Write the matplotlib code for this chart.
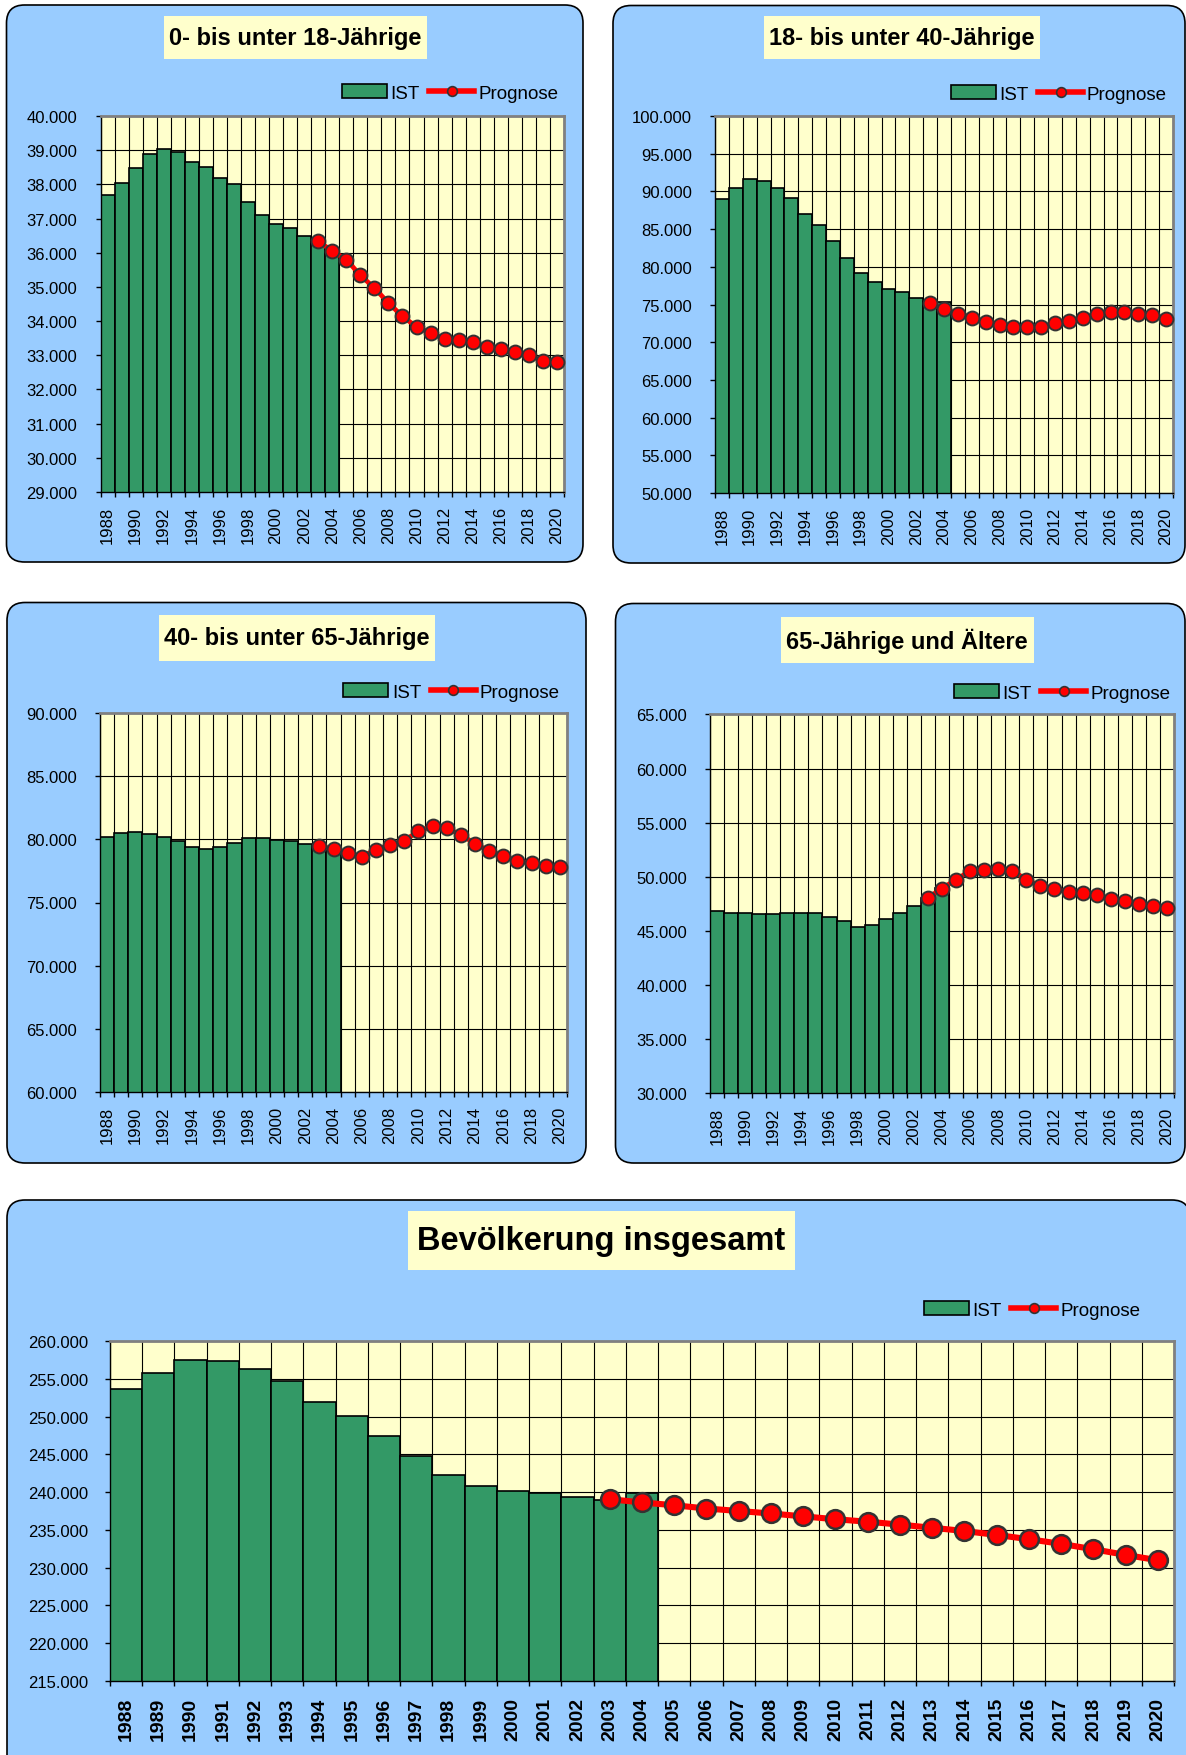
import numpy as np
import matplotlib

matplotlib.use("Agg")
import matplotlib.pyplot as plt
from matplotlib.patches import FancyBboxPatch, Rectangle, Patch
from matplotlib.lines import Line2D
from matplotlib.ticker import FuncFormatter

plt.rcParams["font.family"] = ["Liberation Sans", "DejaVu Sans"]

# --- data ---
years = list(range(1988, 2021))
ist_years = list(range(1988, 2005))
prog_years = list(range(2003, 2021))

ist_u18 = [37690, 38050, 38480, 38880, 39030, 38960, 38650, 38500, 38180, 38000,
           37470, 37110, 36840, 36710, 36480, 36300, 36090]
prog_u18 = [36340, 36050, 35800, 35340, 34970, 34530, 34140, 33830, 33650, 33480,
            33450, 33400, 33230, 33180, 33100, 33000, 32840, 32800]

ist_18_40 = [88970, 90460, 91670, 91430, 90410, 89160, 87040, 85500, 83380, 81170,
             79240, 77990, 77120, 76640, 75870, 75300, 75390]
prog_18_40 = [75140, 74370, 73800, 73270, 72690, 72250, 72010, 72060, 72060, 72500,
              72830, 73270, 73700, 73940, 73940, 73800, 73650, 73120]

ist_40_65 = [80220, 80520, 80600, 80410, 80160, 79890, 79370, 79260, 79400, 79730,
             80110, 80140, 79970, 79840, 79620, 79400, 79300]
prog_40_65 = [79460, 79240, 78910, 78640, 79180, 79560, 79890, 80650, 81040, 80900,
              80350, 79670, 79070, 78690, 78280, 78120, 77870, 77820]

ist_65 = [46790, 46660, 46660, 46560, 46560, 46620, 46620, 46690, 46310, 45870,
          45330, 45520, 46090, 46620, 47330, 48000, 49000]
prog_65 = [48060, 48910, 49740, 50530, 50660, 50750, 50560, 49740, 49130, 48820,
           48600, 48500, 48280, 47960, 47770, 47450, 47260, 47100]

ist_total = [253710, 255800, 257500, 257350, 256300, 254750, 251870, 250070, 247430,
             244830, 242230, 240860, 240150, 239860, 239390, 238960, 239910]
prog_total = [239060, 238630, 238260, 237830, 237500, 237170, 236790, 236410, 236080,
              235700, 235280, 234850, 234330, 233770, 233150, 232440, 231690, 230980]

W, H = 1186, 1756
GREEN = "#339966"
PANEL = "#99CCFF"
PAPER = "#FFFFCC"

fig = plt.figure(figsize=(W / 100, H / 100), dpi=100)
bg = fig.add_axes([0, 0, 1, 1])
bg.set_xlim(0, W)
bg.set_ylim(H, 0)
bg.axis("off")


def px_axes(x0, y0, x1, y1):
    return fig.add_axes([x0 / W, 1 - y1 / H, (x1 - x0) / W, (y1 - y0) / H])


def panel(box, title_box, title, size):
    x0, y0, x1, y1 = box
    bg.add_patch(FancyBboxPatch((x0, y0), x1 - x0, y1 - y0,
                                boxstyle="round,pad=0,rounding_size=18",
                                fc=PANEL, ec="black", lw=1.2))
    tx0, ty0, tx1, ty1 = title_box
    bg.add_patch(Rectangle((tx0, ty0), tx1 - tx0, ty1 - ty0, fc=PAPER, ec="none"))
    bg.text((tx0 + tx1) / 2, (ty0 + ty1) / 2, title, ha="center", va="center",
            fontsize=size, fontweight="bold")


def thousands(v, pos):
    return f"{int(round(v)):,}".replace(",", ".")


def chart(plot_box, ist, prog, ylo, yhi, step, legend_pos, big=False):
    ax = px_axes(*plot_box)
    ax.set_facecolor(PAPER)
    n = len(years)
    ist_x = [years.index(y) for y in ist_years]
    prog_x = [years.index(y) for y in prog_years]
    ax.bar(ist_x, ist, width=1.0, color=GREEN, edgecolor="black", lw=1.2, zorder=2)
    ax.plot(prog_x, prog, color="red", lw=4.4 if big else 3.4, marker="o",
            ms=13.5 if big else 10, mfc="red", mec="#333333",
            mew=1.8 if big else 1.4, zorder=3, clip_on=False)
    ax.set_xlim(-0.5, n - 0.5)
    ax.set_ylim(ylo, yhi)
    ax.set_yticks(np.arange(ylo, yhi + 1, step))
    ax.yaxis.set_major_formatter(FuncFormatter(thousands))
    ax.set_xticks(np.arange(-0.5, n, 1.0), labels=[])
    every = 1 if big else 2
    ax.set_xticks(np.arange(n)[::every], labels=[str(y) for y in years[::every]], minor=True)
    ax.tick_params(axis="x", which="minor", length=0, rotation=90,
                   labelsize=14 if big else 12, pad=11.5 if big else 10)
    ax.tick_params(axis="x", which="major", length=3.6, width=1, color="black")
    ax.tick_params(axis="y", which="major", length=3.6, width=1, labelsize=12,
                   pad=12 if big else 13)
    if big:
        for lab in ax.get_xticklabels(minor=True):
            lab.set_fontweight("bold")
    ax.grid(True, axis="x", which="major", color="black", lw=0.8)
    ax.grid(True, axis="y", which="major", color="black", lw=0.8)
    ax.set_axisbelow(True)
    for side in ("top", "right"):
        ax.spines[side].set_color("#808080")
        ax.spines[side].set_linewidth(2)
    for side in ("left", "bottom"):
        ax.spines[side].set_color("black")
        ax.spines[side].set_linewidth(1)

    handles = [Patch(fc=GREEN, ec="black", lw=1.2),
               Line2D([], [], color="red", lw=4, marker="o", ms=7, mfc="red",
                      mec="#333333", mew=1.2)]
    xr, yc = legend_pos
    ax.legend(handles, ["IST", "Prognose"], loc="center right",
              bbox_to_anchor=(xr / W, 1 - yc / H), bbox_transform=fig.transFigure,
              ncol=2, frameon=False, fontsize=13.5, handlelength=2.4,
              handletextpad=0.2, columnspacing=0.5, borderpad=0, borderaxespad=0)
    return ax


panel((6.5, 6, 583, 563), (164, 17, 427, 60), "0- bis unter 18-Jährige", 17)
panel((613, 6.5, 1185, 564), (764, 17, 1040, 60), "18- bis unter 40-Jährige", 17)
panel((7, 603.5, 586, 1164), (159, 616, 435, 662), "40- bis unter 65-Jährige", 17)
panel((615.5, 604.5, 1185, 1164), (781, 618, 1033.5, 664), "65-Jährige und Ältere", 17)
panel((7, 1201, 1190, 1790), (408, 1212, 795, 1271), "Bevölkerung insgesamt", 23.5)

chart((100.5, 117, 564, 493), ist_u18, prog_u18, 29000, 40000, 1000, (558, 94))
chart((715, 117, 1173, 494), ist_18_40, prog_18_40, 50000, 100000, 5000, (1167, 95))
chart((100, 714, 567, 1093), ist_40_65, prog_40_65, 60000, 90000, 5000, (559.5, 693))
chart((710, 715.5, 1174, 1094), ist_65, prog_65, 30000, 65000, 5000, (1170, 694))
chart((110, 1342, 1174, 1682), ist_total, prog_total, 215000, 260000, 5000, (1140, 1311),
      big=True)

fig.savefig("out.png", dpi=100)
